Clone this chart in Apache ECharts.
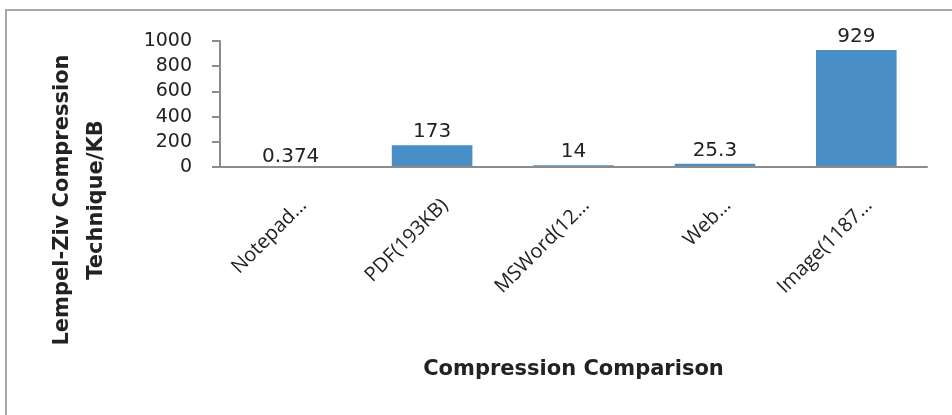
<!DOCTYPE html>
<html>
<head>
<meta charset="utf-8">
<script src="https://cdn.jsdelivr.net/npm/echarts@6/dist/echarts.min.js"></script>
<style>html,body{margin:0;padding:0;background:#fff;}#c{width:952px;height:415px;}</style>
</head>
<body>
<div id="c"></div>
<script>
const categories = ['Notepad…', 'PDF(193KB)', 'MSWord(12…', 'Web…', 'Image(1187…'];
const values = [0.374, 173, 14, 25.3, 929];
const valueLabels = ['0.374', '173', '14', '25.3', '929'];
const yTicks = { min: 0, max: 1000, interval: 200 };
const xTitle = 'Compression Comparison';
const yTitle = 'Lempel-Ziv Compression\nTechnique/KB';

const chart = echarts.init(document.getElementById('c'));
chart.setOption({
  animation: false,
  backgroundColor: '#fff',
  grid: { left: 220, right: 25, top: 41, bottom: 248, containLabel: false },
  xAxis: {
    type: 'category',
    data: categories,
    z: 5,
    name: xTitle,
    nameLocation: 'middle',
    nameGap: 192,
    nameTextStyle: { fontFamily: 'DejaVu Sans', fontWeight: 'bold', fontSize: 21, color: '#222' },
    axisLine: { lineStyle: { color: '#8c8c8c', width: 2 } },
    axisTick: { show: false },
    axisLabel: { rotate: 45, margin: 48, padding: [0, -18, 0, 0], fontFamily: 'Open Sans', fontSize: 20, color: '#222', interval: 0 }
  },
  yAxis: {
    type: 'value',
    min: yTicks.min, max: yTicks.max, interval: yTicks.interval,
    splitLine: { show: false },
    axisLine: { show: true, lineStyle: { color: '#8c8c8c', width: 2 } },
    axisTick: { show: true, length: 8, lineStyle: { color: '#8c8c8c', width: 2 } },
    axisLabel: { margin: 28, fontFamily: 'DejaVu Sans', fontSize: 19, color: '#222', formatter: v => String(v) }
  },
  series: [{
    type: 'bar',
    data: values.map((v, i) => i === 0 ? { value: v, label: { distance: 0 } } : v),
    barWidth: '57%',
    itemStyle: { color: '#4a8ec6' },
    label: {
      show: true, position: 'top', distance: 3,
      fontFamily: 'DejaVu Sans', fontSize: 20, color: '#222',
      formatter: p => valueLabels[p.dataIndex]
    }
  }],
  graphic: [
    { type: 'rect', shape: { x: 6, y: 10, width: 1000, height: 500 },
      style: { fill: 'none', stroke: '#a8a8a8', lineWidth: 2 }, silent: true },
    { type: 'text', x: 483, y: -15,
      style: { text: '(c)', fontFamily: 'DejaVu Sans', fontSize: 16, fill: '#444', textAlign: 'center', textVerticalAlign: 'top' } },
    { type: 'text', x: 80, y: 200, rotation: Math.PI / 2,
      style: { text: yTitle, fontFamily: 'DejaVu Sans', fontWeight: 'bold', fontSize: 21, lineHeight: 34,
        fill: '#222', textAlign: 'center', textVerticalAlign: 'middle' } }
  ]
});
</script>
</body>
</html>
